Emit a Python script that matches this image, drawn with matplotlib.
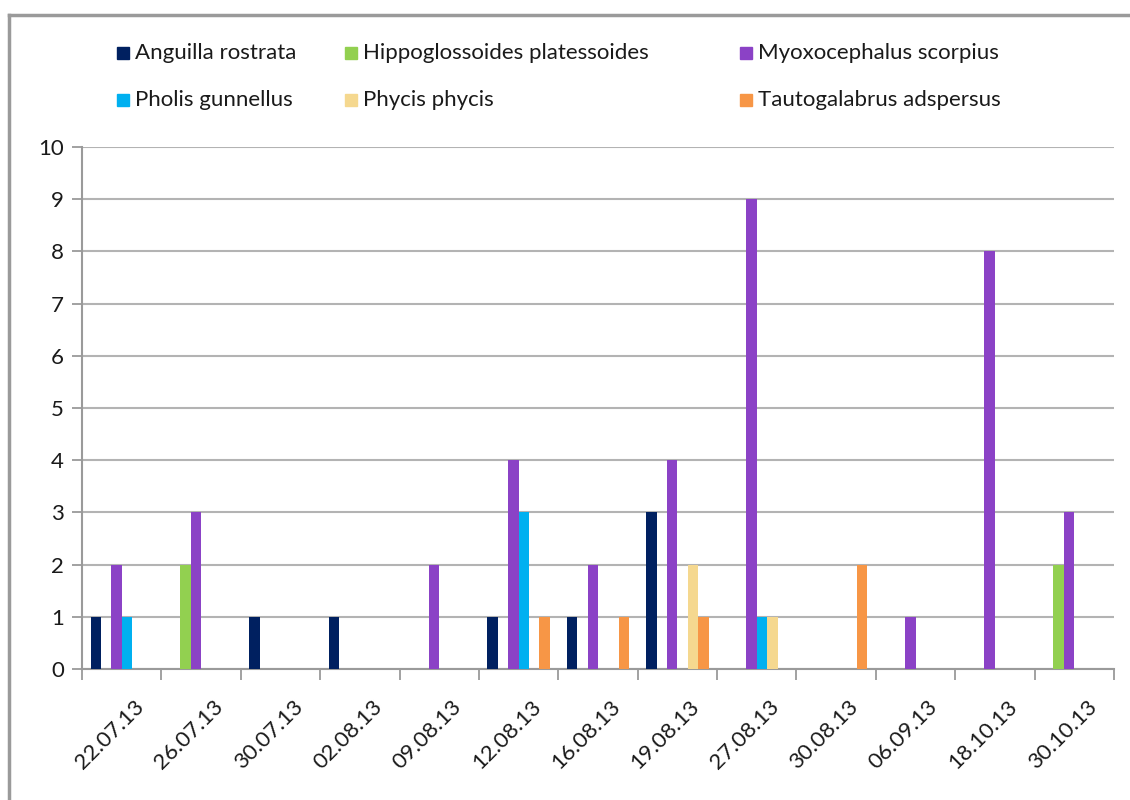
import numpy as np
import matplotlib.pyplot as plt
from matplotlib.lines import Line2D
from matplotlib.patches import Rectangle
import matplotlib.transforms as mtransforms

plt.rcParams['font.family'] = ['Lato', 'DejaVu Sans']

dates = ["22.07.13", "26.07.13", "30.07.13", "02.08.13", "09.08.13", "12.08.13", "16.08.13",
         "19.08.13", "27.08.13", "30.08.13", "06.09.13", "18.10.13", "30.10.13"]

species = ["Anguilla rostrata", "Hippoglossoides platessoides", "Myoxocephalus scorpius",
           "Pholis gunnellus", "Phycis phycis", "Tautogalabrus adspersus"]

anguilla = [1, 0, 1, 1, 0, 1, 1, 3, 0, 0, 0, 0, 0]
hippoglossoides = [0, 2, 0, 0, 0, 0, 0, 0, 0, 0, 0, 0, 2]
myoxocephalus = [2, 3, 0, 0, 2, 4, 2, 4, 9, 0, 1, 8, 3]
pholis = [1, 0, 0, 0, 0, 3, 0, 0, 1, 0, 0, 0, 0]
phycis = [0, 0, 0, 0, 0, 0, 0, 2, 1, 0, 0, 0, 0]
tautogalabrus = [0, 0, 0, 0, 0, 1, 1, 1, 0, 2, 0, 0, 0]

series = [anguilla, hippoglossoides, myoxocephalus, pholis, phycis, tautogalabrus]
colors = ["#002060", "#92D050", "#8B42C6", "#00B0F0", "#F5D88F", "#F79646"]

fig = plt.figure(figsize=(11.3, 8), dpi=100)
ax = fig.add_axes([0.0726, 0.16375, 0.9132, 0.6525])

x = np.arange(len(dates))
w = 0.131
for k, (vals, c) in enumerate(zip(series, colors)):
    ax.bar(x + (k - 2.5) * w, vals, width=w, color=c, zorder=3)

ax.set_xlim(-0.5, len(dates) - 0.5)
ax.set_ylim(0, 10)
ax.set_yticks(range(0, 11))
ax.yaxis.grid(True, color="#B3B3B3", linewidth=1.5, zorder=0)

# category boundary ticks, labels at centres
ax.set_xticks(np.arange(-0.5, len(dates)), minor=False)
ax.set_xticklabels([])
ax.set_xticks(x, minor=True)
ax.set_xticklabels(dates, minor=True, rotation=45, ha="right", va="top",
                   rotation_mode="anchor", fontsize=16, color="#1a1a1a")
ax.tick_params(axis="x", which="minor", length=0, pad=20)
ax.tick_params(axis="x", which="major", length=8, width=1.3, color="#9A9A9A")
ax.tick_params(axis="y", length=7, width=1.3, color="#9A9A9A", labelsize=16,
               labelcolor="#1a1a1a", pad=6)
offset = mtransforms.ScaledTranslation(0.12, 0, fig.dpi_scale_trans)
for lab in ax.xaxis.get_minorticklabels():
    lab.set_transform(lab.get_transform() + offset)

for s in ["top", "right"]:
    ax.spines[s].set_visible(False)
for s in ["left", "bottom"]:
    ax.spines[s].set_color("#9A9A9A")
    ax.spines[s].set_linewidth(1.5)

# legend laid out in two rows of three
cols = [117, 345, 740]
rows = [53, 100]
order = [[0, 1, 2], [3, 4, 5]]
W, H = 1130, 800
for r, idxs in enumerate(order):
    for cx, i in zip(cols, idxs):
        fig.add_artist(Rectangle(((cx) / W, 1 - (rows[r] + 6) / H), 12 / W, 12 / H,
                                 transform=fig.transFigure, color=colors[i]))
        fig.text((cx + 18) / W, 1 - rows[r] / H, species[i], fontsize=16,
                 color="#1a1a1a", va="center", ha="left")

# outer frame
fig.add_artist(Line2D([9 / W, 1], [1 - 15 / H, 1 - 15 / H], transform=fig.transFigure,
                      color="#9A9A9A", linewidth=2.5))
fig.add_artist(Line2D([9 / W, 9 / W], [0, 1 - 15 / H], transform=fig.transFigure,
                      color="#9A9A9A", linewidth=2.5))

fig.savefig("out.png", dpi=100)
